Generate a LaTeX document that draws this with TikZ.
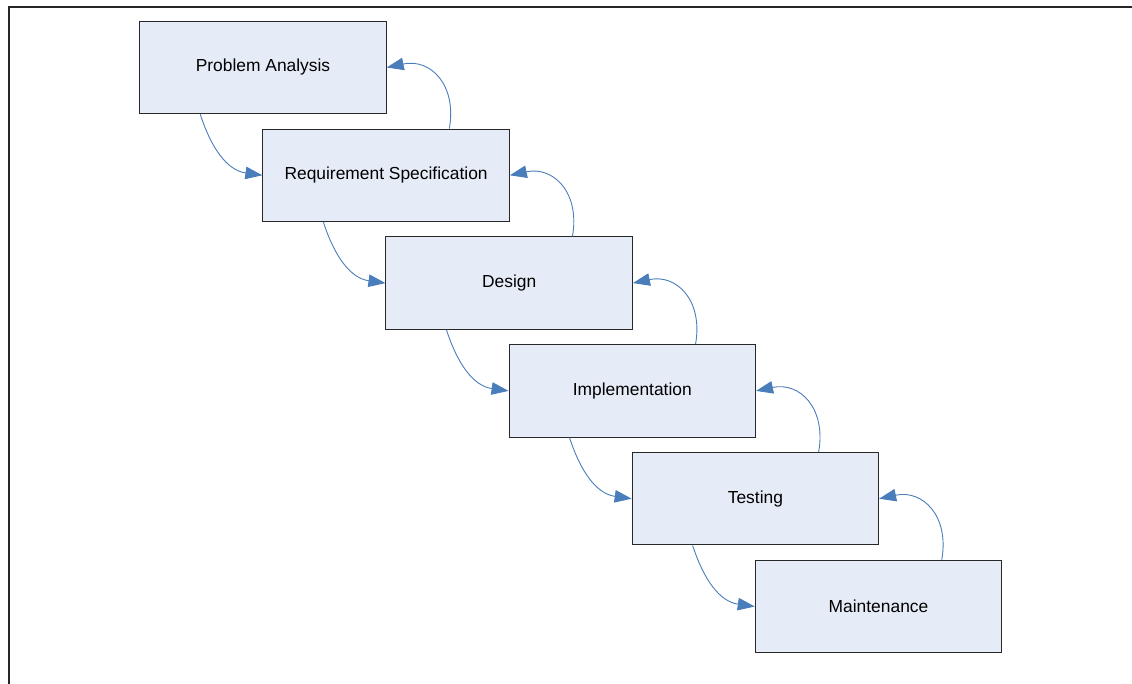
\documentclass[tikz,border=0pt]{standalone}
\usepackage{fontspec}
\setmainfont{Liberation Sans}
\usetikzlibrary{arrows.meta}
\definecolor{boxfill}{RGB}{230,236,247}
\definecolor{boxline}{RGB}{40,40,40}
\definecolor{flow}{RGB}{74,126,187}
\begin{document}
\begin{tikzpicture}[x=1pt,y=1pt,
  phase/.style={draw=boxline,line width=1pt,fill=boxfill,minimum width=246.5pt,
    minimum height=92.5pt,inner sep=0pt,font=\fontsize{17.4}{20}\selectfont},
  fwd/.style={draw=flow,line width=0.9pt,-{Triangle[length=17pt,width=12.5pt]},
    out=-72,in=172,looseness=1.05},
  back/.style={draw=flow,line width=0.9pt,-{Triangle[length=17pt,width=12.5pt]},
    out=80,in=12,looseness=1.3}]
\useasboundingbox (0,0) rectangle (1132,-684);
% frame: top and left rules
\draw[line width=2pt,black!85] (9,-684) -- (9,-7) -- (1132,-7);
% the six phases, stepping down to the right
\node[phase] (pa) at (263.0,-67.5) {Problem Analysis};
\node[phase] (rs) at (386.1,-175.3) {Requirement Specification};
\node[phase] (de) at (509.2,-283.1) {Design};
\node[phase] (im) at (632.3,-390.9) {Implementation};
\node[phase] (te) at (755.4,-498.7) {Testing};
\node[phase] (ma) at (878.5,-606.5) {Maintenance};
% forward flow: bottom of a phase into the left side of the next
\foreach \a/\b in {pa/rs,rs/de,de/im,im/te,te/ma}{
  \draw[fwd] ([xshift=61pt]\a.south west) to (\b.west);
}
% feedback: top of a phase back to the right side of the previous
\foreach \a/\b in {rs/pa,de/rs,im/de,te/im,ma/te}{
  \draw[back] ([xshift=187pt]\a.north west) to (\b.east);
}
\end{tikzpicture}
\end{document}
